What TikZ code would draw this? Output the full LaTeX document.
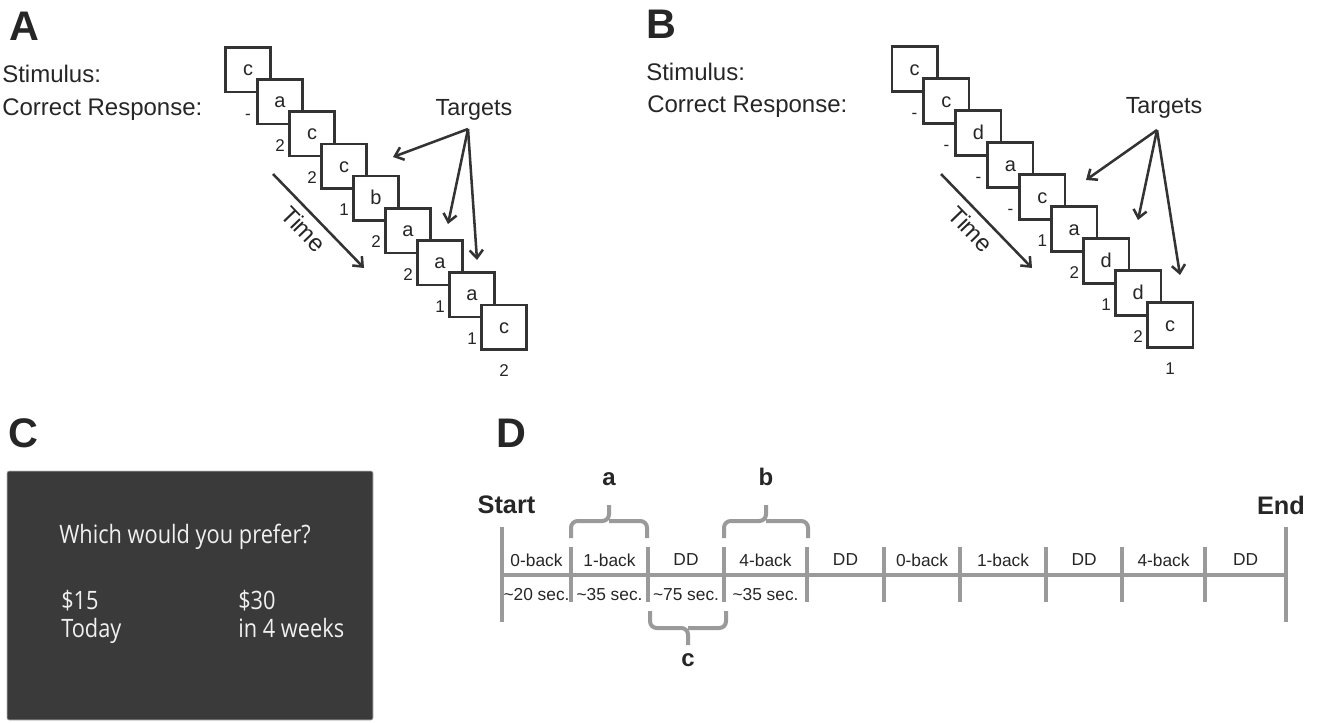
\documentclass[tikz,border=0pt]{standalone}
\usepackage{fontspec}
\setmainfont{Liberation Sans}
\newfontfamily\osans[FakeStretch=0.86]{Open Sans}
\usetikzlibrary{arrows.meta}
\definecolor{ink}{HTML}{333333}
\definecolor{txt}{HTML}{262626}
\definecolor{tl}{HTML}{9A9A9A}
\definecolor{scr}{HTML}{3A3A3A}
\begin{document}
\begin{tikzpicture}[x=0.75pt,y=-0.75pt,
  plabel/.style={font=\fontsize{31}{31}\selectfont\bfseries, text=txt, anchor=base west, inner sep=0},
  lab/.style={font=\fontsize{18}{18}\selectfont, text=txt, inner sep=0},
  stim/.style={draw=ink, line width=1.9pt, fill=white, minimum width=34.1pt, minimum height=33.4pt,
    inner sep=0, text height=9pt, text depth=0pt, font=\fontsize{15}{15}\selectfont, text=txt},
  resp/.style={font=\fontsize{12.75}{12.75}\selectfont, text=txt, anchor=base, inner sep=0},
  arr/.style={draw=ink, line width=1.9pt, -{Straight Barb[length=6pt,width=10pt,line width=1.9pt]}},
  tick/.style={draw=tl, line width=3pt},
  brace/.style={draw=tl, line width=3pt, rounded corners=5pt},
  dl/.style={font=\fontsize{13}{13}\selectfont, text=txt, inner sep=0},
  big/.style={font=\fontsize{19}{19}\selectfont\bfseries, text=txt, anchor=base, inner sep=0},
  brl/.style={font=\fontsize{18}{18}\selectfont\bfseries, text=txt, inner sep=0},
  ctext/.style={font=\osans\fontsize{19}{19}\selectfont, text=white!94!black, anchor=base west, inner sep=0}
]
\useasboundingbox (0,0) rectangle (1330,722);

% ---------------- Panel A
\node[plabel] (LA) at (9,40) {A};
\node[lab, anchor=base west] (stimA) at (2,82) {Stimulus:};
\node[lab, anchor=base west] (corrA) at (2,115) {Correct Response:};
\foreach \l [count=\i from 0] in {c,a,c,c,b,a,a,a,c}
  \node[stim] (a\i) at ({248+32*\i},{69.5+32.2*\i}) {\l};
\foreach \r [count=\i from 0] in {-,2,2,1,2,2,1,1,2}
  \node[resp] (ra\i) at ([yshift=-19.5pt]a\i.south) {\r};
\node[lab, anchor=base, font=\fontsize{17.5}{17.5}\selectfont] (tgA) at (474,115) {Targets};
\coordinate (oA) at (468,129);
\coordinate (tA1) at (393,157);
\coordinate (tA2) at (448,224);
\coordinate (tA3) at (477,260);
\draw[arr] (oA) -- (tA1);
\draw[arr] (oA) -- (tA2);
\draw[arr] (oA) -- (tA3);
\coordinate (tsA) at (273,174);
\coordinate (teA) at (364,268);
\draw[arr] (tsA) -- (teA);
\node[lab, rotate=-46] (timeA) at (304,229) {Time};

% ---------------- Panel B
\node[plabel] (LB) at (646,38) {B};
\node[lab, anchor=base west] (stimB) at (646,80) {Stimulus:};
\node[lab, anchor=base west] (corrB) at (647,112) {Correct Response:};
\foreach \l [count=\i from 0] in {c,c,d,a,c,a,d,d,c}
  \node[stim] (b\i) at ({914.5+31.95*\i},{69+32*\i}) {\l};
\foreach \r [count=\i from 0] in {-,-,-,-,1,2,1,2,1}
  \node[resp] (rb\i) at ([yshift=-19.5pt]b\i.south) {\r};
\node[lab, anchor=base, font=\fontsize{17.5}{17.5}\selectfont] (tgB) at (1164,113) {Targets};
\coordinate (oB) at (1157,130);
\coordinate (tB1) at (1086,180);
\coordinate (tB2) at (1138,220);
\coordinate (tB3) at (1180,275);
\draw[arr] (oB) -- (tB1);
\draw[arr] (oB) -- (tB2);
\draw[arr] (oB) -- (tB3);
\coordinate (tsB) at (941,174);
\coordinate (teB) at (1032,268);
\draw[arr] (tsB) -- (teB);
\node[lab, rotate=-46] (timeB) at (971,229) {Time};

% ---------------- Panel C
\node[plabel] (LC) at (8,447) {C};
\draw[fill=scr, draw=black!25, line width=0.4pt, rounded corners=1.5pt] (7,471) rectangle (373,720);
\node[ctext] (q) at (59,543) {Which would you prefer?};
\node[ctext] (o1a) at (61,609) {\$15};
\node[ctext] (o1b) at (61,637) {Today};
\node[ctext] (o2a) at (238,609) {\$30};
\node[ctext] (o2b) at (238,637) {in 4 weeks};

% ---------------- Panel D
\node[plabel] (LD) at (496,447) {D};
\draw[tick] (502,575) -- (1286,575);
\draw[tick] (502,527) -- (502,622);
\draw[tick] (1286,527) -- (1286,622);
\foreach \x in {571,648,724,807,884,960,1046,1122,1205}
  \draw[tick] (\x,547) -- (\x,602);
\node[big] (start) at (506.5,513) {Start};
\node[big] (end) at (1281,514) {End};
\foreach \x/\t in {536.5/0-back,609.5/1-back,686/DD,765.5/4-back,845.5/DD,922/0-back,1003/1-back,1084/DD,1163.5/4-back,1245.5/DD}
  \node[dl] at (\x,560) {\t};
\foreach \x/\t in {536.5/{\textasciitilde}20 sec.,609.5/{\textasciitilde}35 sec.,686/{\textasciitilde}75 sec.,765.5/{\textasciitilde}35 sec.}
  \node[dl] at (\x,595) {\t};
% braces
\draw[brace] (571,538) |- (609,521) -- (609,505);
\draw[brace] (647,538) |- (609,521);
\draw[brace] (724,538) |- (766,521) -- (766,505);
\draw[brace] (808,538) |- (766,521);
\draw[brace] (650,611) |- (688,628) -- (688,645);
\draw[brace] (726,611) |- (688,628);
\node[brl] (ba) at (609,479) {a};
\node[brl] (bb) at (766,477) {b};
\node[brl] (bc) at (688,660) {c};
\end{tikzpicture}
\end{document}
